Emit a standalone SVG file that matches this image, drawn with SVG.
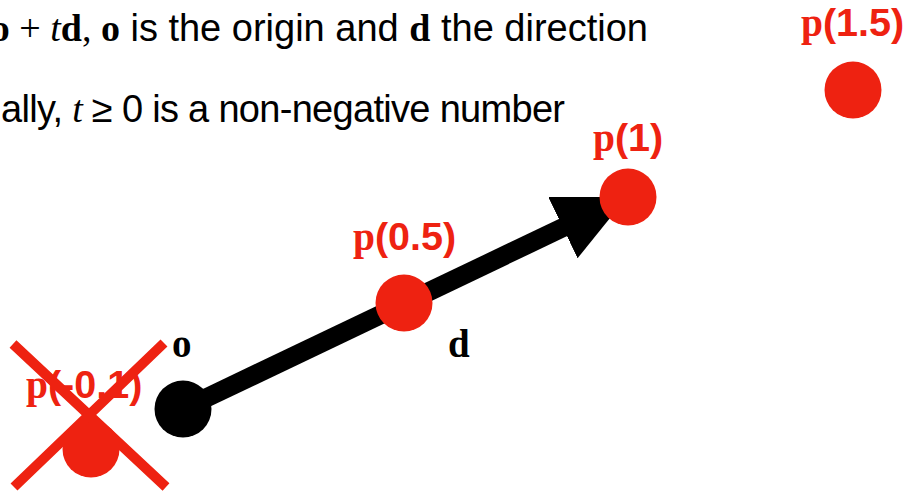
<svg xmlns="http://www.w3.org/2000/svg" width="910" height="495" viewBox="0 0 910 495">
<style>
.s{font-family:"Liberation Sans",Arial,sans-serif}
.tb{font-family:"Liberation Serif","Times New Roman",serif;font-weight:bold}
.ti{font-family:"Liberation Serif","Times New Roman",serif;font-style:italic}
.tr{font-family:"Liberation Serif","Times New Roman",serif}
.lbl{font-size:39.5px;fill:#ee2211;font-weight:bold}
.pt{fill:#ee2211}
</style>
<defs>
<marker id="ah" markerUnits="userSpaceOnUse" viewBox="0 0 71 68" refX="46" refY="34" markerWidth="71" markerHeight="68" orient="auto">
<path d="M0,0 L71,34 L0,68 Z" fill="#000"/>
</marker>
</defs>
<g id="caption" font-size="38" fill="#000">
<text x="648" y="41" text-anchor="end" class="s"><tspan class="tb">o</tspan><tspan class="tr"> + </tspan><tspan class="ti">t</tspan><tspan class="tb">d</tspan><tspan class="tr">, </tspan><tspan class="tb">o</tspan> is the origin and <tspan class="tb">d</tspan> the direction</text>
<text x="1" y="122" class="s" textLength="564" lengthAdjust="spacing">ally, <tspan class="ti">t</tspan> ≥ 0 is a non-negative number</text>
</g>
<g id="connectors">
<line x1="183" y1="409" x2="604.4" y2="207.8" stroke="#000" stroke-width="19" marker-end="url(#ah)"/>
</g>
<g id="origin">
<circle cx="183" cy="409" r="28.5" fill="#000"/>
<text x="172" y="357" class="tb" font-size="39">o</text>
</g>
<g id="dir-label">
<text x="448" y="357" class="tb" font-size="39">d</text>
</g>
<g id="p05">
<circle class="pt" cx="404" cy="303" r="28.5"/>
<text x="353" y="250" class="s lbl"><tspan class="tb">p</tspan>(0.5)</text>
</g>
<g id="p1">
<circle class="pt" cx="628" cy="197" r="28.5"/>
<text x="593" y="151" class="s lbl"><tspan class="tb">p</tspan>(1)</text>
</g>
<g id="p15">
<circle class="pt" cx="853" cy="90" r="28.5"/>
<text x="801" y="36" class="s lbl"><tspan class="tb">p</tspan>(1.5)</text>
</g>
<g id="pneg">
<text x="26" y="398" class="s lbl"><tspan class="tb">p</tspan>(-0.1)</text>
<circle class="pt" cx="91" cy="449" r="28.5"/>
<path d="M13,344 L166,487 M164,343 L14,487" stroke="#ee2211" stroke-width="10" fill="none"/>
</g>
</svg>
